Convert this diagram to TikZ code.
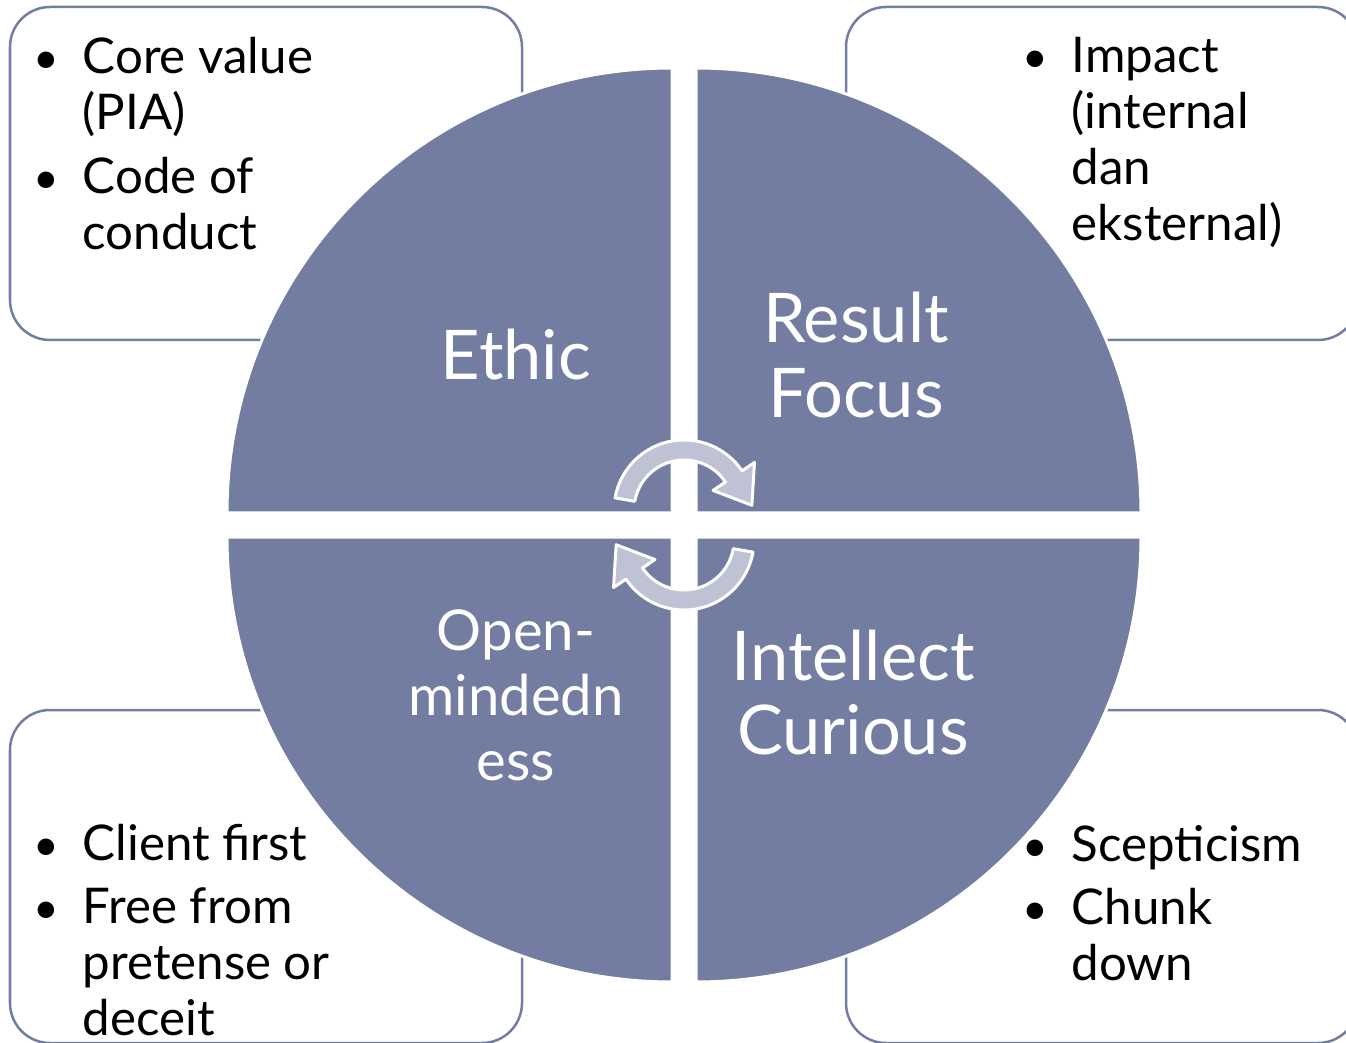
\documentclass[tikz,border=0pt]{standalone}
\usepackage{fontspec}
\setmainfont{Lato}
\usepackage{tikz}
\usetikzlibrary{positioning}
\definecolor{quadblue}{RGB}{115,124,161}
\definecolor{cyclegray}{RGB}{191,194,212}
\tikzset{quarter/.style={fill=quadblue, draw=white, line width=0.03cm},
  sidebox/.style={draw=quadblue, line width=0.025cm, rounded corners=0.4cm},
  bullets/.style={anchor=base west, inner sep=0pt,
    font=\fontsize{14pt}{15.9pt}\selectfont},
  quadtext/.style={anchor=base, inner sep=0pt, text=white,
    font=\fontsize{19.5pt}{21.3pt}\selectfont},
  cyclearrow/.style={fill=cyclegray, draw=white, line width=0.03cm,
    line join=round}}
\newcommand{\turnarrow}{%
  \path[cyclearrow] (170:70) arc (170:34:70) -- (34:85) -- (4:68)
    -- (34:35) -- (34:50) arc (34:170:50) -- cycle;}
\newcommand{\dotmark}{\scalebox{0.9}{\textbullet}}

\begin{document}
\begin{tikzpicture}[x=0.01cm, y=0.01cm, line cap=round]
    \useasboundingbox (0,0) rectangle (1346,1042);

    % side boxes
    \draw [sidebox] (10,702) rectangle (522,1035);
    \draw [sidebox] (846,702) rectangle (1358,1035);
    \draw [sidebox] (10,-1) rectangle (522,332);
    \draw [sidebox] (846,-1) rectangle (1358,332);

    % the four quarters
    \path [quarter] (672,529) -- (227,529) arc (180:90:445) -- cycle;
    \path [quarter] (696,529) -- (696,974) arc (90:0:445) -- cycle;
    \path [quarter] (672,505) -- (672,60) arc (270:180:445) -- cycle;
    \path [quarter] (696,505) -- (1141,505) arc (0:-90:445) -- cycle;

    % turning arrows
    \begin{scope}[shift={(684,532)}]
        \turnarrow
    \end{scope}
    \begin{scope}[shift={(684,502)}, rotate=180]
        \turnarrow
    \end{scope}

    % quarter titles
    \node [quadtext] (ethic) at (516,662) {Ethic};
    \node [quadtext] (result) at (856,699)
        {\begin{tabular}[t]{@{}c@{}}Result\\ Focus\end{tabular}};
    \node [quadtext] (intellect) at (853,362)
        {\begin{tabular}[t]{@{}c@{}}Intellect\\ Curious\end{tabular}};
    \node [quadtext, font=\fontsize{16pt}{18.5pt}\selectfont] (openmind) at (516,392)
        {\begin{tabular}[t]{@{}c@{}}Open-\\ mindedn\\ ess\end{tabular}};

    % points in the boxes
    \node [bullets] (ethicpts) at (33,968)
        {\begin{tabular}[t]{@{}p{0.49cm}@{}l@{}}
        \dotmark & Core value\\ & (PIA)\\[0.08cm]
        \dotmark & Code of\\ & conduct\end{tabular}};
    \node [bullets] (resultpts) at (1022,969)
        {\begin{tabular}[t]{@{}p{0.49cm}@{}l@{}}
        \dotmark & Impact\\ & (internal\\ & dan\\ & eksternal)\end{tabular}};
    \node [bullets] (openpts) at (33,182)
        {\begin{tabular}[t]{@{}p{0.49cm}@{}l@{}}
        \dotmark & Client first\\[0.08cm]
        \dotmark & Free from\\ & pretense or\\ & deceit\end{tabular}};
    \node [bullets] (intellectpts) at (1022,181)
        {\begin{tabular}[t]{@{}p{0.49cm}@{}l@{}}
        \dotmark & Scepticism\\[0.08cm]
        \dotmark & Chunk\\ & down\end{tabular}};

\end{tikzpicture}
\end{document}
